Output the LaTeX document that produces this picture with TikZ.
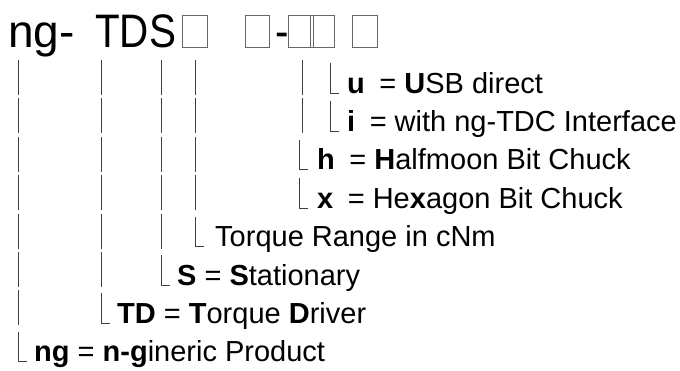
\documentclass[tikz,border=0pt]{standalone}
\usepackage{fontspec}
\setmainfont{Liberation Sans}
\newfontfamily\titlefont{Liberation Sans}[FakeStretch=0.86]

\begin{document}
\begin{tikzpicture}[x=1pt, y=-1pt,
	bar/.style={draw=black!75, line width=1pt},
	tofu/.style={draw=black!60, line width=0.6pt},
	title/.style={anchor=base west, inner sep=0pt, font=\titlefont\fontsize{47}{54}\selectfont},
	key/.style={anchor=base west, inner sep=0pt, font=\fontsize{29}{32}\selectfont}]

\useasboundingbox (0,0) rectangle (680,370);

\newcommand*{\rowbars}[2]{
	\foreach \c in {#2} {
		\draw [bar] (\c,#1-33) -- (\c,#1+2);
	}
}
\newcommand*{\rowhook}[2]{
	\draw [bar] (#2,#1-30) -- (#2,#1) -- (#2+9,#1);
}
\newcommand*{\gap}{\hspace{0.5em}}

% part number
\node [title, font=\fontsize{46}{54}\selectfont] (ng) at (8,47) {ng-};
\node [title] (tds) at (95,47) {TDS};
\node [title] (dash) at (275,47) {-};
\foreach \a/\b in {182/207, 245/269, 288/313, 310/334, 352/377} {
	\draw [tofu] (\a,15) rectangle (\b,47);
}

% key rows
\rowbars{93}{18,101,161,195,302}
\rowhook{93}{330}
\node [key] (usb) at (347,93) {\textbf{u}\gap= \textbf{U}SB direct};

\rowbars{131.4}{18,101,161,195,302}
\rowhook{131.4}{330}
\node [key] (tdc) at (347,131.4) {\textbf{i}\gap= with ng-TDC Interface};

\rowbars{169.8}{18,101,161,195}
\rowhook{169.8}{299}
\node [key] (half) at (317,169.8) {\textbf{h}\gap= \textbf{H}alfmoon Bit Chuck};

\rowbars{208.2}{18,101,161,195}
\rowhook{208.2}{299}
\node [key] (hex) at (317,208.2) {\textbf{x}\gap= He\textbf{x}agon Bit Chuck};

\rowbars{246.6}{18,101,161}
\rowhook{246.6}{195}
\node [key] (range) at (215,246.6) {Torque Range in cNm};

\rowbars{285}{18,101}
\rowhook{285}{161}
\node [key] (stat) at (177,285) {\textbf{S} = \textbf{S}tationary};

\rowbars{323.4}{18}
\rowhook{323.4}{101}
\node [key] (drv) at (117,323.4) {\textbf{TD} = \textbf{T}orque \textbf{D}river};

\rowhook{361.8}{18}
\node [key] (prod) at (34,361.8) {\textbf{ng} = \textbf{n-g}ineric Product};

\end{tikzpicture}
\end{document}
